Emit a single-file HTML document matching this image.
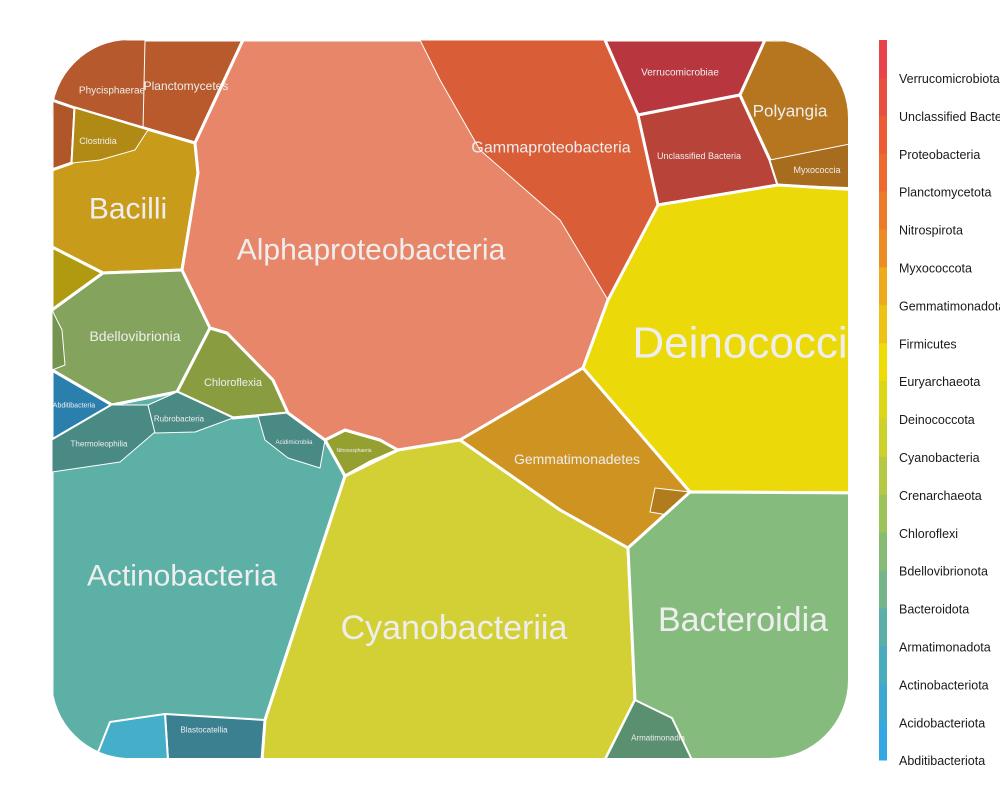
<!DOCTYPE html>
<html><head><meta charset="utf-8"><style>
body{margin:0;background:#fff;width:1000px;height:800px;overflow:hidden;font-family:"Liberation Sans",Arial,sans-serif}
svg{position:absolute;left:0;top:0}
</style></head><body>
<svg id="chart" width="1000" height="800" viewBox="0 0 1000 800">
<defs><clipPath id="clip"><rect x="52" y="40" width="796" height="718" rx="78" ry="78"/></clipPath></defs>
<g id="cells" clip-path="url(#clip)"></g>
<g id="labels"></g>
<g id="legend"></g>
</svg>
<script>
const phyla = ["Verrucomicrobiota","Unclassified Bacteria","Proteobacteria","Planctomycetota","Nitrospirota","Myxococcota","Gemmatimonadota","Firmicutes","Euryarchaeota","Deinococcota","Cyanobacteria","Crenarchaeota","Chloroflexi","Bdellovibrionota","Bacteroidota","Armatimonadota","Actinobacteriota","Acidobacteriota","Abditibacteriota"];
const legendColors = ["#e8434a","#e94f3f","#ea5c36","#eb6a30","#ec7a2b","#ec8c24","#edaa1c","#eec212","#eedc06","#dcd616","#cdd12c","#b5c944","#9dc25a","#86bb73","#74b68a","#5ab0a6","#49abbe","#3ea8d2","#35a7e2"];
const svg="http://www.w3.org/2000/svg";
const cellsG=document.getElementById('cells'),labG=document.getElementById('labels'),legG=document.getElementById('legend');
function poly(pts,fill,sw,name){const p=document.createElementNS(svg,'polygon');p.setAttribute('points',pts);p.setAttribute('fill',fill);p.setAttribute('stroke','#fff');p.setAttribute('stroke-width',sw);p.setAttribute('stroke-linejoin','round');


cellsG.appendChild(p);}
function label(x,y,s,t,name){const e=document.createElementNS(svg,'text');e.setAttribute('x',x);e.setAttribute('y',y);e.setAttribute('font-size',s);e.setAttribute('fill','#eeeeee');e.setAttribute('text-anchor','middle');e.setAttribute('dominant-baseline','central');e.textContent=t;


labG.appendChild(e);}
poly("52,40 243,40 195,143 75,108 52,100","#b85a2c",3,"cell-planctomycetota");
poly("52,40 145,40 143,130 75,108 52,100","#b65a2d",1,"cell-phycisphaerae");
poly("52,100 75,108 72,163 52,170","#b0572a",3,"cell-nitrospira");
poly("195,143 198,173 182,270 103,273 52,247 52,170 72,163 75,108","#c89b1a",3,"cell-firmicutes");
poly("72,163 75,108 148,130 135,150 100,160","#b08a14",1,"cell-clostridia");
poly("52,247 103,273 52,310","#b09a10",3,"cell-methanobacteria");
poly("103,273 182,270 210,328 177,392 112,405 52,370 52,310","#84a35c",3,"cell-bdellovibrionia");
poly("52,310 62,330 65,365 52,370","#74944f",1,"cell-oligoflexia");
poly("52,370 112,405 52,440","#2a7fad",3,"cell-abditibacteria");
poly("210,328 227,333 273,380 288,413 233,418 177,392","#8a9c40",3,"cell-chloroflexia");
poly("52,440 112,405 177,392 233,418 288,413 325,440 345,476 265,720 262,760 52,760","#5db0a6",3,"cell-actinobacteria");
poly("52,440 112,405 148,405 155,432 120,462 52,472","#4a8a85",1,"cell-thermoleophilia");
poly("148,405 177,392 233,418 195,432 155,433","#4a8a85",1,"cell-rubrobacteria");
poly("258,416 288,413 325,440 320,468 288,458 265,440","#4a8a85",1,"cell-acidimicrobiia");
poly("165,714 265,720 262,760 168,760","#3b8090",2,"cell-blastocatellia");
poly("110,722 165,714 168,760 95,760","#45aec8",2,"cell-acidobacteriota");
poly("325,440 345,430 380,440 398,450 370,462 345,476","#96a030",3,"cell-nitrososphaeria");
poly("243,40 420,40 605,40 640,115 658,205 608,300 583,368 460,440 398,450 380,440 345,430 325,440 288,413 273,380 227,333 210,328 182,270 198,173 195,143","#e8866a",3,"cell-alphaproteobacteria");
poly("420,40 605,40 640,115 658,205 608,300 560,220 480,150 440,80","#d95e37",1,"cell-gammaproteobacteria");
poly("605,40 765,40 740,95 638,115","#b8363e",3,"cell-verrucomicrobiae");
poly("638,115 740,95 770,160 778,185 658,205","#b84339",3,"cell-unclassified-bacteria");
poly("765,40 860,40 860,190 778,185 770,160 740,95","#b67620",3,"cell-polyangia");
poly("770,160 860,142 860,188 778,185","#a86c1e",1,"cell-myxococcia");
poly("658,205 778,185 860,190 860,493 690,492 583,368 608,300","#ebd90a",3,"cell-deinococci");
poly("583,368 690,492 628,548 560,510 460,440","#cf9322",3,"cell-gemmatimonadetes");
poly("655,488 690,492 668,515 650,512","#b07c1c",1,"cell-gemmatimonadota-sub");
poly("345,476 398,450 460,440 560,510 628,548 635,700 605,760 262,760 265,720","#d3d035",3,"cell-cyanobacteriia");
poly("628,548 690,492 860,493 860,760 605,760 635,700","#86bb7e",3,"cell-bacteroidia");
poly("605,760 635,700 672,718 692,760","#5a8f70",2,"cell-armatimonadia");
const labs=[[740,343,44,"Deinococci"],[371,250,30,"Alphaproteobacteria"],[182,576,30,"Actinobacteria"],[454,628,34,"Cyanobacteriia"],[743,620,34,"Bacteroidia"],[128,209,30,"Bacilli"],[551,148,16,"Gammaproteobacteria"],[577,459,14,"Gemmatimonadetes"],[790,111,17,"Polyangia"],[135,336,14,"Bdellovibrionia"],[233,383,11,"Chloroflexia"],[186,86,12,"Planctomycetes"],[112,91,10,"Phycisphaerae"],[680,73,10,"Verrucomicrobiae"],[699,156,9,"Unclassified Bacteria"],[817,170,9,"Myxococcia"],[98,141,9,"Clostridia"],[179,419,8,"Rubrobacteria"],[99,444,8,"Thermoleophilia"],[74,406,7,"Abditibacteria"],[658,738,8,"Armatimonadia"],[204,730,8,"Blastocatellia"],[294,443,6,"Acidimicrobiia"],[354,451,5,"Nitrososphaeria"]];
labs.forEach(l=>label(l[0],l[1],l[2],l[3],'label-'+l[3].toLowerCase().replace(/\s+/g,'-')));
const segH=720/phyla.length;
phyla.forEach((p,i)=>{const r=document.createElementNS(svg,'rect');r.setAttribute('x',879);r.setAttribute('y',40+i*segH);r.setAttribute('width',8);r.setAttribute('height',segH+0.5);r.setAttribute('fill',legendColors[i]);


legG.appendChild(r);
const t=document.createElementNS(svg,'text');t.setAttribute('x',899);t.setAttribute('y',79+i*37.9);t.setAttribute('font-size',12.5);t.setAttribute('fill','#1a1a1a');t.setAttribute('dominant-baseline','central');t.textContent=p;


legG.appendChild(t);});
</script>
</body></html>
